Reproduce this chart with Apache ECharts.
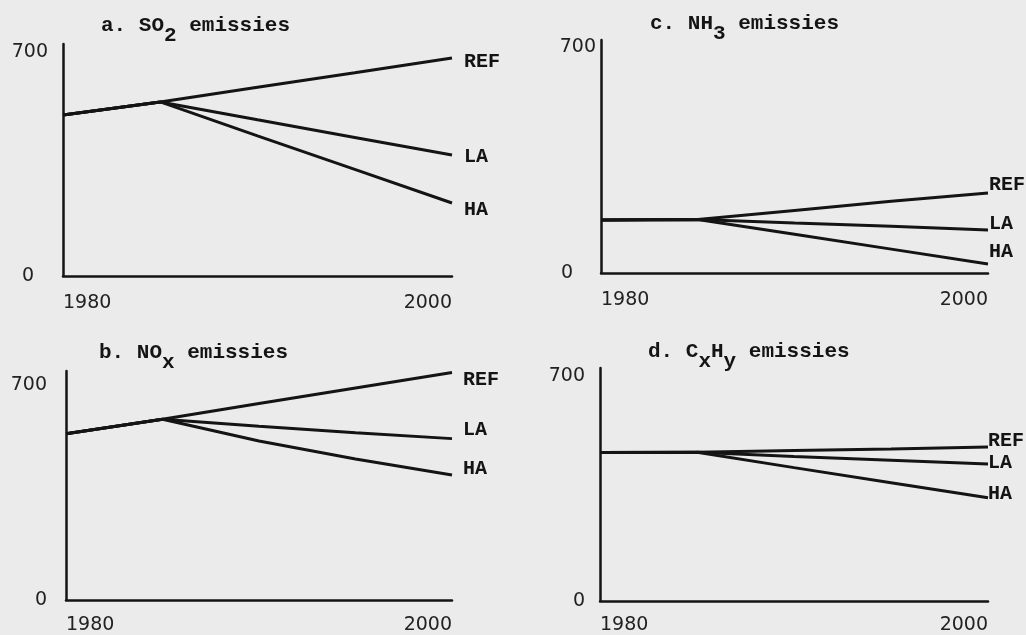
<!DOCTYPE html>
<html>
<head>
<meta charset="utf-8">
<script src="https://cdn.jsdelivr.net/npm/echarts@6/dist/echarts.min.js"></script>
<style>
html,body{margin:0;padding:0;background:#ebebeb;}
#c{width:1026px;height:635px;}
</style>
</head>
<body>
<div id="c"></div>
<script>
// ---- data ----
const years = [1980, 1985, 1990, 1995, 2000];
const yTicks = [0, 700];
const xTicks = [1980, 2000];
const scenarioNames = ['REF', 'LA', 'HA'];

const so2Ref = [503, 544, 590, 635, 681];
const so2La  = [503, 544, 488, 433, 378];
const so2Ha  = [503, 544, 438, 333, 228];

const noxRef = [541, 588, 639, 690, 740];
const noxLa  = [541, 588, 565, 544, 525];
const noxHa  = [541, 588, 517, 459, 407];

const nh3Ref = [164, 166, 194, 222, 248];
const nh3La  = [164, 166, 155, 145, 133];
const nh3Ha  = [164, 166, 120, 74, 28];

const cxhyRef = [462, 463, 468, 473, 479];
const cxhyLa  = [462, 463, 450, 438, 426];
const cxhyHa  = [462, 463, 415, 368, 321];

const titles = [
  'a. SO{s|2} emissies',
  'b. NO{s|x} emissies',
  'c. NH{s|3} emissies',
  'd. C{s|x}H{s|y} emissies'
];

// ---- layout / style ----
const INK = '#141414';
const monoFont = 'Liberation Mono';
const tickFont = 'DejaVu Sans';

const panels = [
  {grid:{left:63, top:44, width:389, height:232}, ymax:725, title:{left:101, top:4},
   yMargin:15, zeroPad:14, xMargin:18, series:[so2Ref, so2La, so2Ha],
   labelOff:[[12,4],[12,2],[12,7]]},
  {grid:{left:66, top:371, width:386, height:234}, ymax:745, title:{left:99, top:331},
   yMargin:19, zeroPad:0, xMargin:16, series:[noxRef, noxLa, noxHa],
   labelOff:[[11,7],[11,-9],[11,-6]]},
  {grid:{left:601, top:40, width:387, height:233}, ymax:722, title:{left:650, top:2},
   yMargin:5, zeroPad:23, xMargin:18, series:[nh3Ref, nh3La, nh3Ha],
   labelOff:[[1,-8],[1,-6],[1,-12]]},
  {grid:{left:600, top:368, width:388, height:235}, ymax:725, title:{left:648, top:330},
   yMargin:15, zeroPad:0, xMargin:15, series:[cxhyRef, cxhyLa, cxhyHa],
   labelOff:[[0,-6],[0,-1],[0,-4]]}
];

const option = {
  backgroundColor: '#ebebeb',
  animation: false,
  title: [], grid: [], xAxis: [], yAxis: [], series: []
};

panels.forEach((p, gi) => {
  option.title.push({
    text: titles[gi],
    left: p.title.left, top: p.title.top, padding: 0,
    textStyle: {
      fontFamily: monoFont, fontSize: 21, fontWeight: 'bold', color: INK,
      lineHeight: 44,
      rich: {
        s: {fontFamily: monoFont, fontSize: 21, fontWeight: 'bold', color: INK,
            lineHeight: 24, padding: [20, 0, 0, 0]}
      }
    }
  });
  option.grid.push(Object.assign({containLabel: false}, p.grid));
  option.xAxis.push({
    type: 'value', gridIndex: gi, min: xTicks[0], max: xTicks[1],
    interval: xTicks[1] - xTicks[0],
    axisLine: {show: true, onZero: false, lineStyle: {color: INK, width: 2.5}},
    axisTick: {show: false}, splitLine: {show: false},
    axisLabel: {
      show: true, margin: p.xMargin, fontFamily: tickFont, fontSize: 19, color: '#222',
      alignMinLabel: 'left', alignMaxLabel: 'right',
      formatter: v => xTicks.includes(v) ? String(v) : ''
    }
  });
  option.yAxis.push({
    type: 'value', gridIndex: gi, min: 0, max: p.ymax, interval: yTicks[1],
    axisLine: {show: true, onZero: false, lineStyle: {color: INK, width: 2.5}},
    axisTick: {show: false}, splitLine: {show: false},
    axisLabel: {
      show: true, margin: p.yMargin, fontFamily: tickFont, fontSize: 19, color: '#222',
      showMaxLabel: false,
      formatter: v => v === yTicks[0] ? '{z|0}' : (v === yTicks[1] ? String(v) : ''),
      rich: {z: {fontFamily: tickFont, fontSize: 19, color: '#222', padding: [0, p.zeroPad, 0, 0]}}
    }
  });
  p.series.forEach((arr, si) => {
    option.series.push({
      type: 'line', xAxisIndex: gi, yAxisIndex: gi,
      data: years.map((y, i) => [y, arr[i]]),
      showSymbol: false, symbol: 'none',
      lineStyle: {color: INK, width: 3},
      endLabel: {
        show: true, formatter: scenarioNames[si],
        distance: p.labelOff[si][0], offset: [0, p.labelOff[si][1]],
        fontFamily: monoFont, fontSize: 20, fontWeight: 'bold', color: INK
      },
      emphasis: {disabled: true}
    });
  });
});

const chart = echarts.init(document.getElementById('c'), null, {renderer: 'canvas'});
chart.setOption(option);
</script>
</body>
</html>
